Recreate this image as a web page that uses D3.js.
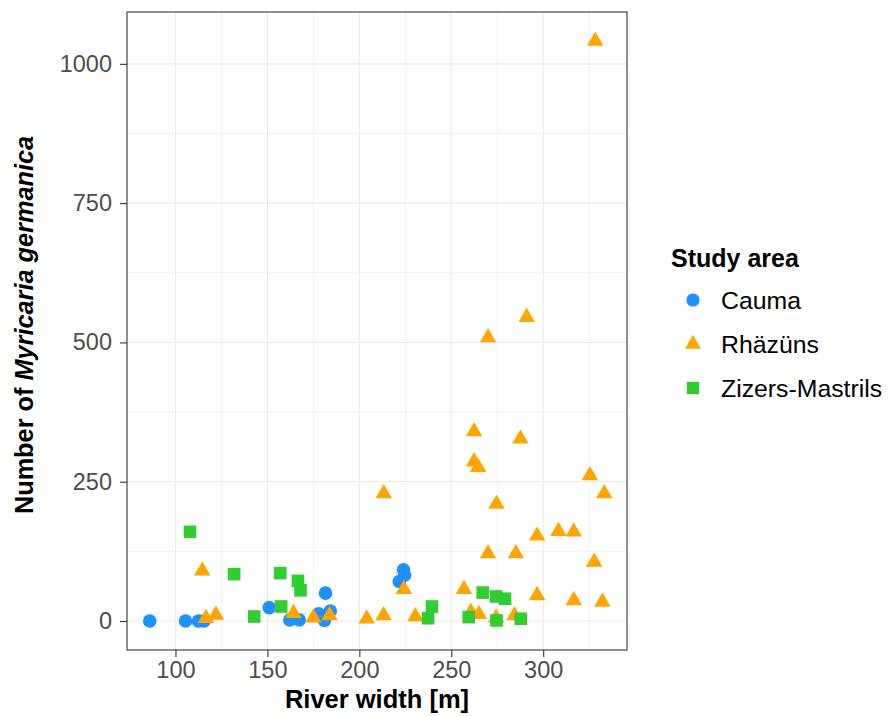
<!DOCTYPE html>
<html><head><meta charset="utf-8">
<script src="https://cdn.jsdelivr.net/npm/d3@7"></script>
<style>body{margin:0;background:#fff}svg{display:block;font-family:"Liberation Sans",Arial,sans-serif}</style>
</head><body><svg id="c" width="888" height="716"></svg>
<script>
const categories = ["Cauma", "Rhäzüns", "Zizers-Mastrils"];
const colors = ["#1E90FF", "#FFA500", "#32CD32"];
const caumaX = [86, 105.5, 112.5, 115.5, 151, 162.2, 167.3, 177.9, 181, 181.6, 184.2, 221.7, 224.6, 224];
const caumaY = [0, 0, 0, 0, 24, 2, 2, 13, 1, 50, 18, 71, 82, 92];
const rhazunsX = [114.6, 116.6, 122, 164.2, 175, 183.8, 204, 213.2, 213.3, 224.2, 230.5, 256.9, 260.6, 262.4, 262.4, 264.6, 265, 270, 270, 274.6, 274.4, 285.1, 284.4, 287.6, 291, 296.7, 296.7, 308.3, 316.6, 316.6, 325.4, 327.7, 328.3, 332.2, 333.2];
const rhazunsY = [90, 5, 11, 14, 6, 10, 4, 10, 229, 57, 8, 57, 16, 340, 286, 276, 12, 509, 121, 210, 6, 121, 10, 327, 545, 153, 46, 161, 160, 37, 261, 106, 1041, 34, 229];
const zizersX = [107.9, 131.9, 142.8, 157, 157.5, 166.6, 168, 237.4, 239.5, 259.5, 267.1, 274.4, 274.6, 279.2, 287.8];
const zizersY = [160, 84, 8, 86, 26, 72, 55, 5, 26, 7, 51, 44, 1, 40, 4];
const xTicks = [100, 150, 200, 250, 300];
const yTicks = [0, 250, 500, 750, 1000];
const xMinor = [125, 175, 225, 275, 325];
const yMinor = [125, 375, 625, 875];

const series = [
  {name: categories[0], xs: caumaX, ys: caumaY, shape: d3.symbolCircle, size: 145},
  {name: categories[1], xs: rhazunsX, ys: rhazunsY, shape: d3.symbolTriangle, size: 118},
  {name: categories[2], xs: zizersX, ys: zizersY, shape: d3.symbolSquare, size: 160}
];

const svg = d3.select("#c");
const L = 127, R = 627, T = 12, B = 650;
const allX = [].concat(caumaX, rhazunsX, zizersX), allY = [].concat(caumaY, rhazunsY, zizersY);
const xmin = d3.min(allX), xmax = d3.max(allX), ymin = d3.min(allY), ymax = d3.max(allY);
const xe = (xmax - xmin) * 0.05, ye = (ymax - ymin) * 0.05;
const x = d3.scaleLinear().domain([xmin - xe, xmax + xe]).range([L, R]);
const y = d3.scaleLinear().domain([ymin - ye, ymax + ye]).range([B, T]);

// grid
const g = svg.append("g");
g.selectAll(".xm").data(xMinor).join("line").attr("x1", d => x(d)).attr("x2", d => x(d)).attr("y1", T).attr("y2", B).attr("stroke", "#EBEBEB").attr("stroke-width", 0.6);
g.selectAll(".ym").data(yMinor).join("line").attr("y1", d => y(d)).attr("y2", d => y(d)).attr("x1", L).attr("x2", R).attr("stroke", "#EBEBEB").attr("stroke-width", 0.6);
g.selectAll(".xM").data(xTicks).join("line").attr("x1", d => x(d)).attr("x2", d => x(d)).attr("y1", T).attr("y2", B).attr("stroke", "#EBEBEB").attr("stroke-width", 1.2);
g.selectAll(".yM").data(yTicks).join("line").attr("y1", d => y(d)).attr("y2", d => y(d)).attr("x1", L).attr("x2", R).attr("stroke", "#EBEBEB").attr("stroke-width", 1.2);

// points
series.forEach((s, i) => {
  const data = s.xs.map((v, j) => [v, s.ys[j]]);
  svg.append("g").selectAll("path").data(data).join("path")
    .attr("d", d3.symbol().type(s.shape).size(s.size))
    .attr("transform", d => `translate(${x(d[0])},${y(d[1])})`)
    .attr("fill", colors[i]);
});

// border
svg.append("rect").attr("x", L).attr("y", T).attr("width", R - L).attr("height", B - T).attr("fill", "none").attr("stroke", "#333").attr("stroke-width", 1.1);

// axes
const xa = svg.append("g").attr("transform", `translate(0,${B})`).call(d3.axisBottom(x).tickValues(xTicks).tickSize(7).tickPadding(4).tickFormat(d3.format("d")));
const ya = svg.append("g").attr("transform", `translate(${L},0)`).call(d3.axisLeft(y).tickValues(yTicks).tickSize(7).tickPadding(8).tickFormat(d3.format("d")));
[xa, ya].forEach(a => {
  a.select(".domain").remove();
  a.selectAll(".tick line").attr("stroke", "#333").attr("stroke-width", 1.1);
  a.selectAll(".tick text").attr("fill", "#4D4D4D").style("font-size", "23.5px").style("font-family", "Liberation Sans, Arial, sans-serif");
});

// titles
svg.append("text").attr("x", (L + R) / 2).attr("y", 708).attr("text-anchor", "middle").style("font-size", "25.5px").style("font-weight", "bold").text("River width [m]");
const yt = svg.append("text").attr("transform", `translate(33,325) rotate(-90)`).attr("text-anchor", "middle").style("font-size", "25.3px").style("font-weight", "bold");
yt.append("tspan").text("Number of ");
yt.append("tspan").style("font-style", "italic").text("Myricaria germanica");

// legend
const lg = svg.append("g");
lg.append("text").attr("x", 671).attr("y", 267).style("font-size", "25px").style("font-weight", "bold").text("Study area");
series.forEach((s, i) => {
  const cy = 300 + i * 44;
  lg.append("path").attr("d", d3.symbol().type(s.shape).size(s.size * 0.95)).attr("transform", `translate(693,${cy})`).attr("fill", colors[i]);
  lg.append("text").attr("x", 721).attr("y", cy + 8.5).style("font-size", "24.8px").attr("fill", "#000").text(s.name);
});
</script></body></html>
